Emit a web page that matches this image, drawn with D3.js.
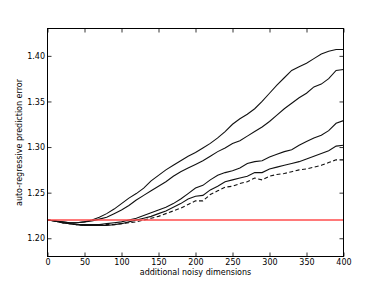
<!DOCTYPE html>
<html><head><meta charset="utf-8">
<script src="https://cdn.jsdelivr.net/npm/d3@7"></script>
<style>body{margin:0;background:#fff}svg{display:block}text{font-family:"DejaVu Sans",sans-serif}</style>
</head><body><svg id="c" width="382" height="286"></svg>
<script>
const dims = d3.range(0, 401, 10);
const seriesA = [1.220,1.219,1.218,1.217,1.217,1.218,1.220,1.223,1.227,1.232,1.238,1.244,1.249,1.255,1.263,1.269,1.275,1.280,1.285,1.290,1.294,1.299,1.304,1.310,1.317,1.325,1.331,1.336,1.342,1.350,1.359,1.368,1.376,1.384,1.388,1.392,1.397,1.402,1.405,1.407,1.407];
const seriesB = [1.220,1.219,1.218,1.217,1.217,1.218,1.219,1.221,1.223,1.227,1.231,1.236,1.242,1.247,1.252,1.257,1.262,1.268,1.273,1.277,1.281,1.285,1.290,1.295,1.299,1.304,1.307,1.312,1.317,1.322,1.328,1.335,1.342,1.348,1.354,1.359,1.366,1.369,1.375,1.384,1.385];
const seriesC = [1.220,1.219,1.217,1.216,1.215,1.215,1.215,1.215,1.216,1.217,1.218,1.220,1.222,1.225,1.228,1.231,1.234,1.238,1.243,1.249,1.255,1.258,1.264,1.269,1.272,1.274,1.277,1.282,1.284,1.285,1.289,1.292,1.295,1.297,1.302,1.306,1.310,1.313,1.318,1.326,1.329];
const seriesD = [1.220,1.219,1.217,1.216,1.215,1.214,1.214,1.214,1.214,1.215,1.216,1.218,1.220,1.222,1.224,1.227,1.230,1.234,1.238,1.243,1.246,1.247,1.253,1.257,1.262,1.264,1.266,1.268,1.272,1.272,1.276,1.278,1.280,1.282,1.284,1.287,1.290,1.293,1.296,1.301,1.302];
const seriesE = [1.220,1.219,1.217,1.216,1.215,1.214,1.214,1.214,1.215,1.215,1.216,1.217,1.218,1.220,1.222,1.224,1.227,1.230,1.233,1.237,1.241,1.241,1.248,1.252,1.256,1.257,1.260,1.262,1.266,1.264,1.268,1.270,1.271,1.273,1.275,1.276,1.278,1.280,1.283,1.286,1.286];
const baseline = 1.22;
const xTicks = [0,50,100,150,200,250,300,350,400];
const yTicks = [1.20,1.25,1.30,1.35,1.40];

const L=47.5, R=343.5, T=28.5, B=256.5;
const svg = d3.select("#c");
const x = d3.scaleLinear().domain([0,400]).range([L,R]);
const y = d3.scaleLinear().domain([1.18,1.43]).range([B,T]);

const line = d3.line().x((d,i)=>x(dims[i])).y(d=>y(d));
const solid = [seriesA, seriesB, seriesC, seriesD];
solid.forEach(s=>svg.append("path").attr("d",line(s)).attr("fill","none").attr("stroke","#111").attr("stroke-width",1.1));
svg.append("path").attr("d",line(seriesE)).attr("fill","none").attr("stroke","#111").attr("stroke-width",1.1).attr("stroke-dasharray","4,2.5");
svg.append("line").attr("x1",x(0)).attr("x2",x(400)).attr("y1",y(baseline)).attr("y2",y(baseline)).attr("stroke","#ff4d4d").attr("stroke-width",1.3);

svg.append("rect").attr("x",L).attr("y",T).attr("width",R-L).attr("height",B-T).attr("fill","none").attr("stroke","#000").attr("stroke-width",1);

const gx = svg.append("g").attr("transform",`translate(0,${B})`).call(d3.axisBottom(x).tickValues(xTicks).tickSize(-4).tickPadding(3).tickFormat(d3.format("d")));
const gxt = svg.append("g").attr("transform",`translate(0,${T})`).call(d3.axisTop(x).tickValues(xTicks).tickSize(-4).tickFormat(""));
const gy = svg.append("g").attr("transform",`translate(${L},0)`).call(d3.axisLeft(y).tickValues(yTicks).tickSize(-4).tickPadding(2.5).tickFormat(d3.format(".2f")));
const gyr = svg.append("g").attr("transform",`translate(${R},0)`).call(d3.axisRight(y).tickValues(yTicks).tickSize(-4).tickFormat(""));
[gx,gxt,gy,gyr].forEach(g=>{g.select(".domain").remove();g.selectAll("line").attr("stroke","#000").attr("stroke-width",0.8);g.selectAll("text").attr("font-size",8).attr("fill","#000").attr("font-family","DejaVu Sans");});

svg.append("text").attr("x",(L+R)/2).attr("y",275).attr("text-anchor","middle").attr("font-size",8).text("additional noisy dimensions");
svg.append("text").attr("transform",`translate(22,${(T+B)/2}) rotate(-90)`).attr("text-anchor","middle").attr("font-size",8).text("auto-regressive prediction error");
</script></body></html>
